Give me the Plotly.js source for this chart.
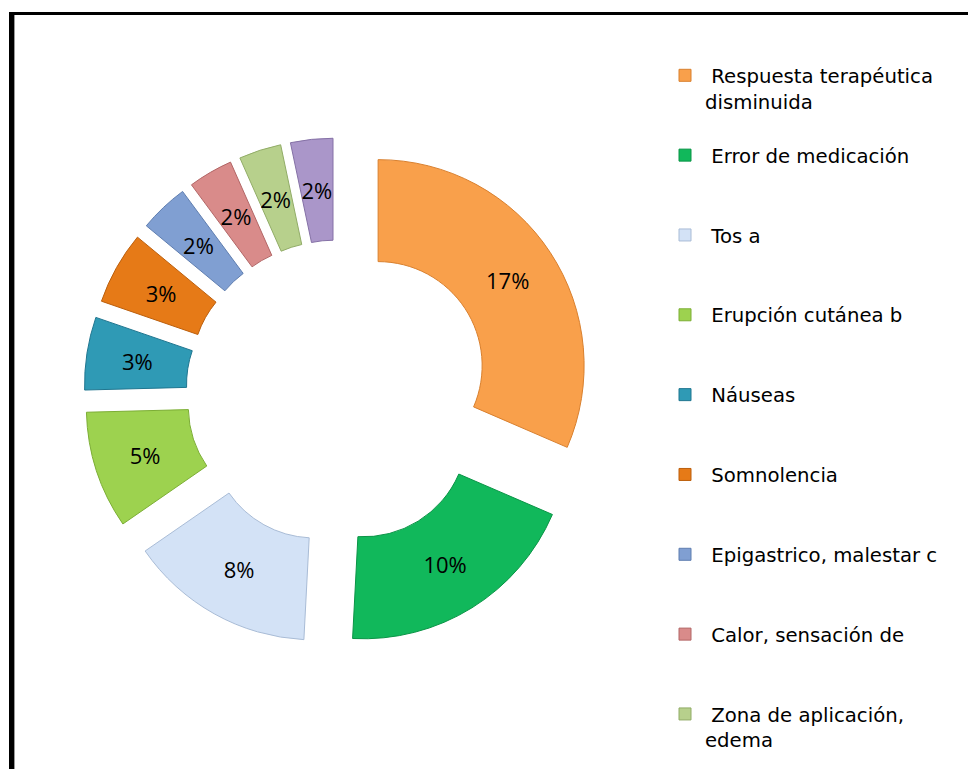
<!DOCTYPE html>
<html>
<head>
<meta charset="utf-8">
<script src="https://cdn.plot.ly/plotly-3.0.1.min.js"></script>
<style>
  html, body { margin: 0; padding: 0; overflow: hidden; background: #fff; }
  #chart { position: absolute; left: 0; top: 0; width: 968px; height: 880px; }
  #frame { position: absolute; left: 9px; top: 12px; width: 1000px; height: 900px;
           border-left: 5px solid #000; border-top: 3px solid #000; pointer-events: none; z-index: 10; }
  #frame2 { position: absolute; left: 14px; top: 15px; width: 1px; height: 900px; background: #9a9a9a; pointer-events: none; z-index: 10; }
</style>
</head>
<body>
<div id="chart"></div>
<div id="frame"></div>
<div id="frame2"></div>
<script>
// ---- data ----
var categories = [
  "Respuesta terapéutica disminuida",
  "Error de medicación",
  "Tos a",
  "Erupción cutánea b",
  "Náuseas",
  "Somnolencia",
  "Epigastrico, malestar c",
  "Calor, sensación de",
  "Zona de aplicación, edema",
  "Otras"
];
// share of each slice
var values = [17.1, 10.5, 7.9, 5.0, 3.1, 3.1, 2.1, 1.9, 1.8, 1.8];
// percentages printed on the slices
var pctLabels = ["17%", "10%", "8%", "5%", "3%", "3%", "2%", "2%", "2%", "2%"];
var colors = ["#F9A04B", "#11B85B", "#D3E2F6", "#9DD24F", "#2F9AB5",
              "#E67A17", "#809FD2", "#D98B8A", "#B7D08C", "#AA96C9"];
var edgeColors = ["#D9802E", "#0A9446", "#A9BCD6", "#7CAE35", "#1F7690",
                  "#BC5F0C", "#5F7EB0", "#B26666", "#91AC67", "#8571A6"];

// wrap legend text like the reference and pad every entry to three lines
function legendText(s) {
  var words = s.split(" "), lines = [], cur = "";
  words.forEach(function (w) {
    if (cur && (cur + " " + w).length > 23) { lines.push(cur); cur = w; }
    else { cur = cur ? cur + " " + w : w; }
  });
  lines.push(cur);
  lines[0] = "\u00a0" + lines[0];
  while (lines.length < 3) lines.push("\u00a0");
  return lines.join("<br>");
}
var legendLabels = categories.map(legendText);

// geometry (pixels in the 968x880 plot area)
var CX = 338, CY = 392;          // ring centre
var R = 206, SHIFT = 48;         // outer radius, explode distance
var RMID = 155;                  // radius where the small-slice labels sit
function dom(r, pull) {
  var half = r * (1 + pull);
  return { x: [(CX - half) / 968, (CX + half) / 968],
           y: [1 - (CY + half) / 880, 1 - (CY - half) / 880] };
}
var BIG = 2; // the first two (wide) slices keep their labels on the main ring
var bigText = pctLabels.map(function (t, i) { return i < BIG ? t : ""; });
var smallText = pctLabels.map(function (t, i) { return i < BIG ? "" : t; });
var labelFont = { family: "Open Sans, sans-serif", size: 22, color: "#000" };

var ring = {
  type: "pie",
  labels: legendLabels,
  values: values,
  text: bigText,
  texttemplate: "%{text}",
  textinfo: "text",
  textposition: "inside",
  insidetextorientation: "horizontal",
  textfont: labelFont,
  hole: 0.505,
  pull: values.map(function () { return SHIFT / R; }),
  sort: false,
  direction: "clockwise",
  rotation: 0,
  marker: { colors: colors, line: { color: edgeColors, width: 1 } },
  domain: dom(R, SHIFT / R),
  hoverinfo: "none"
};

// thin transparent ring that only carries the small-slice labels at mid-ring
var R2 = RMID / 0.95;
var labelsRing = {
  type: "pie",
  labels: legendLabels,
  values: values,
  text: smallText,
  texttemplate: "%{text}",
  textinfo: "text",
  textposition: "inside",
  insidetextorientation: "horizontal",
  textfont: labelFont,
  hole: 0.9,
  pull: values.map(function () { return SHIFT / R2; }),
  sort: false,
  direction: "clockwise",
  rotation: 0,
  showlegend: false,
  marker: { colors: values.map(function () { return "rgba(0,0,0,0)"; }),
            line: { width: 0 } },
  domain: dom(R2, SHIFT / R2),
  hoverinfo: "none"
};

var layout = {
  width: 968,
  height: 880,
  margin: { l: 0, r: 0, t: 0, b: 0 },
  paper_bgcolor: "#ffffff",
  showlegend: true,
  uniformtext: { minsize: 22, mode: "show" },
  legend: {
    x: 665 / 968, xanchor: "left",
    y: 1 - 56 / 880, yanchor: "top",
    valign: "top",
    font: { family: "DejaVu Sans, sans-serif", size: 19.7, color: "#000" },
    bgcolor: "rgba(0,0,0,0)",
    borderwidth: 0
  },
  font: { family: "Open Sans, sans-serif" }
};

Plotly.newPlot("chart", [ring, labelsRing], layout, { displayModeBar: false, staticPlot: true });
</script>
</body>
</html>
